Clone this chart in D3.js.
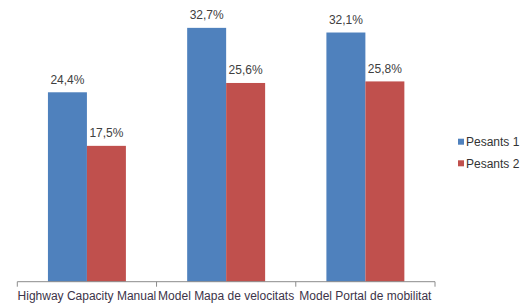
<!DOCTYPE html>
<html>
<head>
<meta charset="utf-8">
<script src="https://cdn.jsdelivr.net/npm/d3@7"></script>
<style>
  body { margin: 0; background: #fff; }
  svg { display: block; font-family: "Liberation Sans", Arial, sans-serif; }
</style>
</head>
<body>
<svg width="522" height="305"></svg>
<script>
// chart data
const categories = ["Highway Capacity Manual", "Model Mapa de velocitats", "Model Portal de mobilitat"];
const seriesNames = ["Pesants 1", "Pesants 2"];
const pesants1 = [24.4, 32.7, 32.1];
const pesants2 = [17.5, 25.6, 25.8];
const colors = ["#4f81bd", "#c0504d"];

const svg = d3.select("svg");
const left = 17.3, right = 435, baseY = 281.7, topY = 10;

const x0 = d3.scaleBand().domain(categories).range([left, right]);
const x1 = d3.scaleBand().domain(seriesNames).range([0, x0.bandwidth()])
    .paddingInner(0).paddingOuter(0.786);
const y = d3.scaleLinear().domain([0, 35]).range([baseY, topY]);

const rows = categories.map((c, i) => ({ cat: c, values: [pesants1[i], pesants2[i]] }));
const fmt = v => d3.format(".1f")(v).replace(".", ",") + "%";

const groups = svg.selectAll("g.cat")
    .data(rows)
    .join("g")
    .attr("class", "cat")
    .attr("transform", d => `translate(${x0(d.cat)},0)`);

const cells = groups.selectAll("g.bar")
    .data(d => d.values.map((v, j) => ({ name: seriesNames[j], v, j })))
    .join("g")
    .attr("class", "bar");

cells.append("rect")
    .attr("x", d => x1(d.name))
    .attr("y", d => y(d.v))
    .attr("width", x1.bandwidth())
    .attr("height", d => baseY - y(d.v))
    .attr("fill", d => colors[d.j]);

cells.append("text")
    .attr("x", d => x1(d.name) + x1.bandwidth() / 2)
    .attr("y", d => y(d.v) - 8.5)
    .attr("text-anchor", "middle")
    .attr("font-size", 12)
    .attr("fill", "#404040")
    .text(d => fmt(d.v));

// x axis: baseline plus tick marks at category boundaries
const axis = svg.append("g").attr("transform", `translate(0,${baseY})`);
axis.append("line")
    .attr("x1", left).attr("x2", right)
    .attr("stroke", "#8c8c8c");
const tickX = categories.map(c => x0(c)).concat([x0.range()[1]]);
axis.selectAll("line.tick")
    .data(tickX)
    .join("line")
    .attr("class", "tick")
    .attr("x1", d => d).attr("x2", d => d)
    .attr("y1", 0).attr("y2", 5)
    .attr("stroke", "#8c8c8c");
axis.selectAll("text")
    .data(categories)
    .join("text")
    .attr("x", d => x0(d) + x0.bandwidth() / 2)
    .attr("y", 18.5)
    .attr("text-anchor", "middle")
    .attr("font-size", 12)
    .attr("fill", "#3c3449")
    .text(d => d);

// legend
const legend = svg.append("g").attr("transform", "translate(458,141.7)");
const li = legend.selectAll("g")
    .data(seriesNames)
    .join("g")
    .attr("transform", (d, i) => `translate(0,${i * 21.6})`);
li.append("rect")
    .attr("x", 0).attr("y", -3)
    .attr("width", 6).attr("height", 6)
    .attr("fill", (d, i) => colors[i]);
li.append("text")
    .attr("x", 8)
    .attr("y", 4.3)
    .attr("font-size", 12)
    .attr("fill", "#333")
    .text(d => d);
</script>
</body>
</html>
